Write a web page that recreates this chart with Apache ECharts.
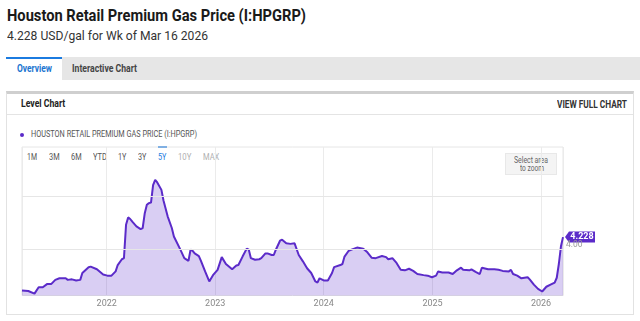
<!DOCTYPE html>
<html><head><meta charset="utf-8">
<script src="https://cdn.jsdelivr.net/npm/echarts@6/dist/echarts.min.js"></script>
<style>
html,body{margin:0;padding:0;background:#fff;}
body{width:640px;height:321px;position:relative;overflow:hidden;font-family:Roboto,"Noto Sans",sans-serif;}
.t{position:absolute;white-space:nowrap;line-height:1;transform-origin:0 0;}
.b{position:absolute;box-sizing:border-box;}
#chart{position:absolute;left:0;top:0;width:640px;height:321px;z-index:5;}
</style></head>
<body>
<div class="t" data-w="299" style="left:7px;top:8px;font-size:16px;font-weight:700;color:#1a1a1a;">Houston Retail Premium Gas Price (I:HPGRP)</div>
<div class="t" data-w="201" style="left:7px;top:28.6px;font-size:13px;color:#333;">4.228 USD/gal for Wk of Mar 16 2026</div>

<div class="b" style="left:6px;top:57px;width:634px;height:23px;background:#e6e6e6;"></div>
<div class="b" style="left:6px;top:57px;width:56px;height:23px;background:#fff;border-top:2px solid #1b7be0;"></div>
<div class="t" data-w="35" style="left:16.7px;top:63.7px;font-size:10px;font-weight:700;color:#1b75d0;">Overview</div>
<div class="t" data-w="65" style="left:71.7px;top:63.7px;font-size:10px;font-weight:700;color:#444;">Interactive Chart</div>

<div class="b" style="left:6px;top:91px;width:628px;height:224px;border:1px solid #e2e2e2;border-top:3px solid #cfcfcf;"></div>
<div class="t" data-w="44.3" style="left:20.7px;top:99.3px;font-size:10.5px;font-weight:700;color:#222;">Level Chart</div>
<div class="t" data-w="70" style="left:557px;top:99.5px;font-size:10px;font-weight:700;color:#333;">VIEW FULL CHART</div>
<div class="b" style="left:7px;top:114px;width:626px;height:1px;background:#e4e4e4;"></div>

<div class="b" style="left:20px;top:133.3px;width:4px;height:4px;border-radius:50%;background:#5b2bc9;"></div>
<div class="t" data-w="166" style="left:30.7px;top:130.2px;font-size:8.5px;color:#555;">HOUSTON RETAIL PREMIUM GAS PRICE (I:HPGRP)</div>

<div class="t" data-w="10" style="left:26.7px;top:152.1px;font-size:9.5px;color:#555;">1M</div>
<div class="t" data-w="10.6" style="left:48.7px;top:152.1px;font-size:9.5px;color:#555;">3M</div>
<div class="t" data-w="10.6" style="left:70.7px;top:152.1px;font-size:9.5px;color:#555;">6M</div>
<div class="t" data-w="14" style="left:92.7px;top:152.1px;font-size:9.5px;color:#555;">YTD</div>
<div class="t" data-w="8.4" style="left:118.3px;top:152.1px;font-size:9.5px;color:#555;">1Y</div>
<div class="t" data-w="8.4" style="left:138.3px;top:152.1px;font-size:9.5px;color:#555;">3Y</div>
<div class="b" style="left:158.3px;top:145.5px;width:8.4px;height:2px;background:#1b7be0;"></div>
<div class="t" data-w="8.4" style="left:158.3px;top:152.1px;font-size:9.5px;color:#1b7be0;">5Y</div>
<div class="t" data-w="13.4" style="left:178.3px;top:152.1px;font-size:9.5px;color:#b0b0b0;">10Y</div>
<div class="t" data-w="16.3" style="left:202.7px;top:152.1px;font-size:9.5px;color:#b0b0b0;">MAX</div>

<div class="b" style="left:505px;top:153px;width:52px;height:22px;background:#f4f4f4;border:1px solid #e8e8e8;"></div>
<div class="t" data-w="34" style="left:514.3px;top:155.9px;font-size:8.5px;color:#666;">Select area</div>
<div class="t" data-w="24" style="left:520px;top:164.2px;font-size:8.5px;color:#666;">to zoom</div>

<div id="chart"></div>
<script>
// ---- data ----
const dates = [
'2021-03-22','2021-04-12','2021-05-03','2021-05-17','2021-05-31','2021-06-14','2021-06-28','2021-07-12','2021-07-26','2021-08-16',
'2021-08-23','2021-09-06','2021-09-20','2021-10-04','2021-10-11','2021-11-01','2021-11-08','2021-11-29','2021-12-20','2022-01-03',
'2022-01-17','2022-01-31','2022-02-07','2022-02-21','2022-02-28','2022-03-07','2022-03-14','2022-03-21','2022-03-28','2022-04-11',
'2022-04-25','2022-05-02','2022-05-09','2022-05-16','2022-05-23','2022-05-30','2022-06-06','2022-06-13','2022-06-20','2022-07-04',
'2022-07-11','2022-07-25','2022-08-08','2022-08-15','2022-09-05','2022-09-19','2022-10-03','2022-10-10','2022-10-17','2022-10-24',
'2022-11-07','2022-11-14','2022-11-28','2022-12-12','2022-12-26','2023-01-09','2023-01-23','2023-02-06','2023-02-27','2023-03-13',
'2023-03-20','2023-04-03','2023-04-17','2023-04-24','2023-05-01','2023-05-15','2023-05-29','2023-06-05','2023-06-19','2023-06-26',
'2023-07-10','2023-07-17','2023-07-24','2023-08-07','2023-08-14','2023-08-28','2023-09-11','2023-09-25','2023-10-09','2023-10-23',
'2023-11-06','2023-11-20','2023-12-04','2023-12-11','2023-12-18','2024-01-01','2024-01-15','2024-01-29','2024-02-05','2024-02-26',
'2024-03-04','2024-03-11','2024-03-25','2024-04-08','2024-04-22','2024-05-13','2024-05-27','2024-06-10','2024-06-24','2024-07-15',
'2024-07-29','2024-08-05','2024-08-19','2024-09-02','2024-09-16','2024-09-30','2024-10-14','2024-10-28','2024-11-11','2024-12-02',
'2024-12-16','2024-12-30','2025-01-13','2025-01-20','2025-02-03','2025-02-24','2025-03-10','2025-03-24','2025-04-07','2025-04-14',
'2025-05-05','2025-05-12','2025-05-26','2025-06-09','2025-06-16','2025-07-07','2025-07-28','2025-08-11','2025-08-25','2025-09-15',
'2025-09-22','2025-09-29','2025-10-13','2025-10-27','2025-11-17','2025-11-24','2025-12-08','2025-12-22','2026-01-05','2026-01-19',
'2026-02-02','2026-02-16','2026-02-23','2026-03-02','2026-03-09','2026-03-16'
];
const prices = [
3.22,3.21,3.16,3.28,3.28,3.34,3.34,3.42,3.45,3.45,
3.42,3.43,3.41,3.42,3.55,3.66,3.67,3.62,3.52,3.50,
3.50,3.58,3.70,3.81,3.83,4.46,4.60,4.57,4.52,4.43,
4.38,4.40,4.68,4.84,4.87,4.88,5.21,5.31,5.26,5.12,
4.92,4.62,4.40,4.24,4.00,3.83,3.78,3.99,3.97,3.92,
3.87,3.78,3.58,3.39,3.52,3.61,3.85,3.72,3.62,3.69,
3.70,3.86,4.01,3.99,3.83,3.80,3.81,3.83,3.92,3.92,
3.89,3.89,3.99,4.16,4.18,4.11,4.10,4.11,3.89,3.77,
3.64,3.55,3.39,3.37,3.45,3.41,3.41,3.55,3.66,3.70,
3.72,3.86,3.97,4.00,4.03,4.01,3.94,3.84,3.83,3.87,
3.85,3.81,3.83,3.74,3.61,3.60,3.63,3.59,3.53,3.51,
3.50,3.47,3.50,3.58,3.56,3.56,3.53,3.60,3.65,3.61,
3.60,3.62,3.57,3.53,3.65,3.62,3.62,3.61,3.59,3.58,
3.61,3.53,3.50,3.45,3.47,3.43,3.33,3.25,3.20,3.29,
3.33,3.37,3.46,3.72,4.05,4.228
];
const gridValues = [4, 5];
const yearTicks = ['2022','2023','2024','2025','2026'];

// fit condensed header texts
document.querySelectorAll('.t').forEach(el => {
  const w = +el.dataset.w;
  const nat = el.getBoundingClientRect().width;
  if (nat > 0) el.style.transform = 'scaleX(' + (w / nat) + ')';
});

const YEAR = 365 * 24 * 3600 * 1000;
const last = dates.length - 1;
const chart = echarts.init(document.getElementById('chart'), null, {renderer: 'canvas'});
chart.setOption({
  animation: false,
  textStyle: {fontFamily: 'Roboto'},
  grid: {left: 22, top: 147, right: 77, bottom: 25.5, show: true, borderColor: '#e6e6e6', borderWidth: 1, backgroundColor: 'transparent'},
  xAxis: {
    type: 'time', min: dates[0], max: dates[last],
    minInterval: YEAR, maxInterval: YEAR,
    axisLine: {show: false}, axisTick: {show: false},
    splitLine: {show: true, lineStyle: {color: '#ebebeb', width: 1}},
    axisLabel: {formatter: v => { const y = String(new Date(v).getFullYear()); return yearTicks.includes(y) ? y : ''; }, color: '#888', fontSize: 9, margin: 4, showMinLabel: false, showMaxLabel: false}
  },
  yAxis: {
    type: 'value', min: 3.125, max: 5.93,
    splitLine: {show: false}, axisLabel: {show: false}, axisLine: {show: false}, axisTick: {show: false}
  },
  series: [{
    type: 'line',
    data: dates.map((d, i) => [d, prices[i]]),
    showSymbol: false, symbol: 'none',
    lineStyle: {color: '#5b2bc9', width: 2},
    itemStyle: {color: '#5b2bc9'},
    areaStyle: {color: '#5b2bc9', opacity: 0.23},
    markLine: {
      silent: true, symbol: 'none', animation: false,
      lineStyle: {color: '#e6e6e6', type: 'solid', width: 1},
      label: {show: false},
      data: gridValues.map(v => v === 4
        ? {yAxis: v, label: {show: true, position: 'end', formatter: v.toFixed(2), color: '#999', fontSize: 8.5, distance: 3, offset: [0, -4]}}
        : {yAxis: v})
    },
    markPoint: {
      symbol: 'path://M0,5.5L4,0L30,0L30,11L4,11Z',
      symbolSize: [30, 11], symbolOffset: [17, 0], symbolKeepAspect: false,
      itemStyle: {color: '#5b2bc9'},
      label: {show: true, position: 'inside', offset: [2, 0], color: '#fff', fontWeight: 'bold', fontSize: 9, formatter: p => p.value.toFixed(3)},
      data: [{coord: [dates[last], prices[last]], value: prices[last]}]
    }
  }]
});
</script>
</body></html>
